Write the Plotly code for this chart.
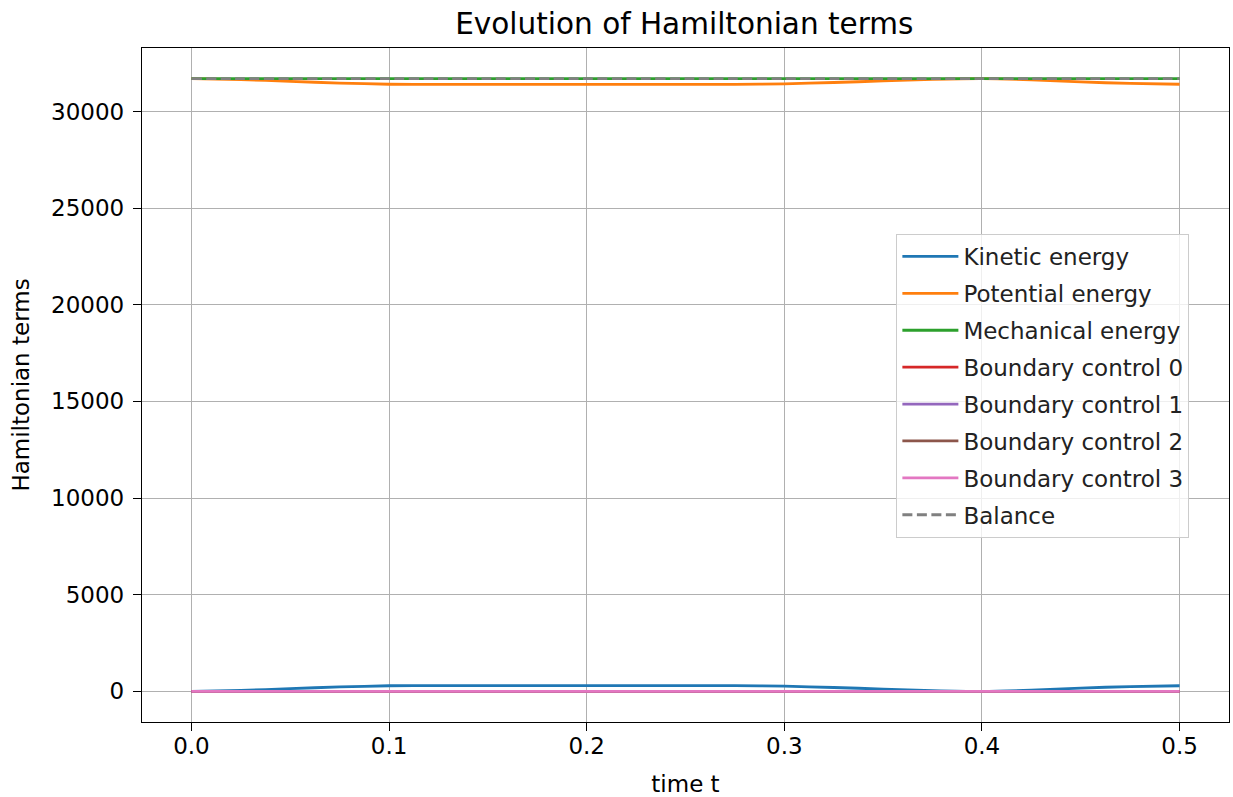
import plotly.graph_objects as go

# ---- data ----
time_t = [0.0, 0.025, 0.05, 0.075, 0.1, 0.125, 0.15, 0.175, 0.2, 0.225, 0.25,
          0.275, 0.3, 0.325, 0.35, 0.375, 0.4, 0.425, 0.45, 0.475, 0.5]
kinetic = [0, 50, 140, 230, 290, 300, 300, 300, 300, 300, 300,
           295, 270, 200, 120, 40, 0, 60, 170, 250, 290]
mechanical = [31700] * len(time_t)
potential = [m - k for m, k in zip(mechanical, kinetic)]
boundary0 = [0] * len(time_t)
boundary1 = [0] * len(time_t)
boundary2 = [0] * len(time_t)
boundary3 = [0] * len(time_t)
balance = [31700] * len(time_t)

x_ticks = [0.0, 0.1, 0.2, 0.3, 0.4, 0.5]
y_ticks = [0, 5000, 10000, 15000, 20000, 25000, 30000]

series = [
    ("Kinetic energy", kinetic, "#1f77b4", "solid"),
    ("Potential energy", potential, "#ff7f0e", "solid"),
    ("Mechanical energy", mechanical, "#2ca02c", "solid"),
    ("Boundary control 0", boundary0, "#d62728", "solid"),
    ("Boundary control 1", boundary1, "#9467bd", "solid"),
    ("Boundary control 2", boundary2, "#8c564b", "solid"),
    ("Boundary control 3", boundary3, "#e377c2", "solid"),
    ("Balance", balance, "#808080", "10px,4.5px"),
]

FONT = "DejaVu Sans"
FS = 23
fig = go.Figure()
for i, (name, vals, color, dash) in enumerate(series):
    fig.add_trace(go.Scatter(
        x=time_t, y=vals, mode="lines", name=name, legendgroup=f"g{i}",
        line=dict(color=color, width=2.8, dash=dash, shape="spline", smoothing=0.6),
    ))

axis_common = dict(
    showgrid=True, gridcolor="#b0b0b0", gridwidth=1,
    showline=True, linecolor="black", linewidth=1.4, mirror=True,
    ticks="outside", ticklen=8, tickwidth=1.4, tickcolor="black",
    zeroline=False, tickfont=dict(family=FONT, size=FS, color="black"),
    automargin=False,
)
fig.update_xaxes(range=[-0.025, 0.525], tickvals=x_ticks, tickformat=".1f",
                 ticklabelstandoff=-5,
                 title=dict(text="time t", font=dict(family=FONT, size=FS, color="black"), standoff=21),
                 **axis_common)
fig.update_yaxes(range=[-1585, 33285], tickvals=y_ticks, tickformat="d",
                 ticklabelstandoff=4,
                 title=dict(text="Hamiltonian terms", font=dict(family=FONT, size=FS, color="black"), standoff=14),
                 **axis_common)

fig.update_layout(
    width=1233, height=797,
    margin=dict(l=142, r=4, t=48, b=75),
    paper_bgcolor="white", plot_bgcolor="white",
    font=dict(family=FONT, size=FS, color="black"),
    title=dict(text="Evolution of Hamiltonian terms", x=0.555, xanchor="center",
               y=0.97, yanchor="middle", font=dict(family=FONT, size=29.5, color="black")),
    showlegend=True,
    legend=dict(x=0.694, y=0.724, xanchor="left", yanchor="top",
                bgcolor="rgba(255,255,255,0.8)", bordercolor="#cccccc", borderwidth=1,
                font=dict(family=FONT, size=FS, color="#222222"),
                tracegroupgap=4, itemwidth=56),
)

fig.write_html("out.html")
